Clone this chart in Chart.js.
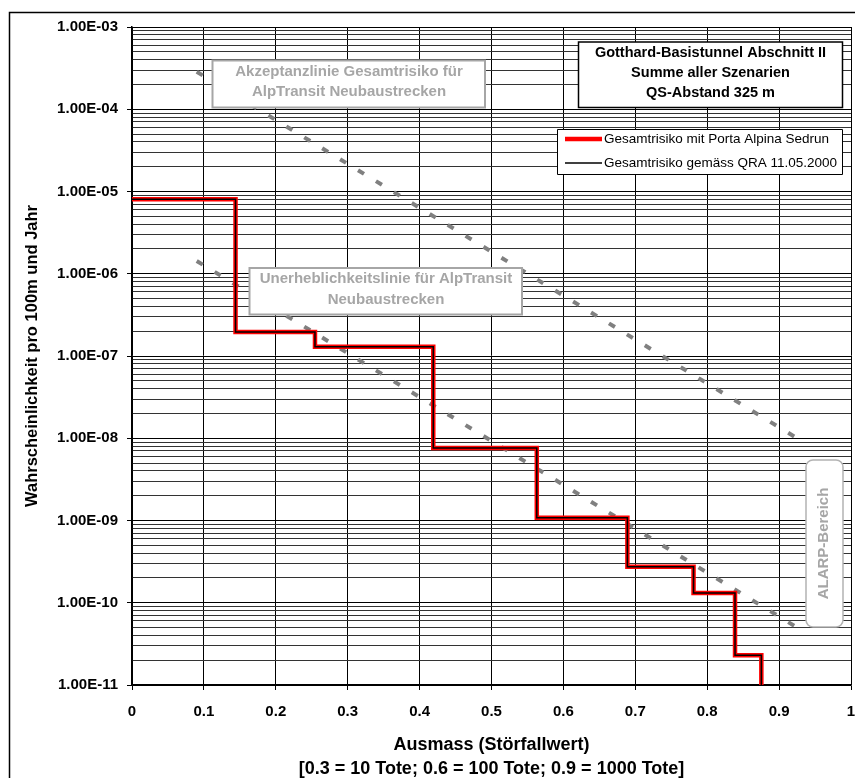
<!DOCTYPE html>
<html>
<head>
<meta charset="utf-8">
<title>Gotthard-Basistunnel Abschnitt II</title>
<script src="https://cdn.jsdelivr.net/npm/chart.js@4.4.1/dist/chart.umd.min.js"></script>
<style>
    html, body { margin: 0; padding: 0; background: #fff; overflow: hidden; }
    canvas { display: block; }
</style>
</head>
<body>
<canvas id="chart" width="870" height="800"></canvas>
<script>
/* ============================================
   Summenkurve Gesamtrisiko (log y), Stufenlinie
   ============================================ */

// Stufenkurve Gesamtrisiko (x = Ausmass, y = Wahrscheinlichkeit)
const stepX = [0, 0.144, 0.2545, 0.419, 0.563, 0.689, 0.781, 0.8387, 0.8753];
const portaY = [8.05e-6, 1.96e-7, 1.3e-7, 7.6e-9, 1.08e-9, 2.74e-10, 1.31e-10, 2.3e-11, 1e-11];
const qraY = [8.05e-6, 1.96e-7, 1.3e-7, 7.6e-9, 1.08e-9, 2.74e-10, 1.31e-10, 2.3e-11, 1e-11];

// Akzeptanz- und Unerheblichkeitslinie (Endpunkte)
const lineX = [0.09, 0.925];
const akzeptanzY = [2.86e-4, 1.0e-8];
const unerheblichY = [1.43e-6, 5.0e-11];

// Achsen
const xTickLabels = ['0', '0.1', '0.2', '0.3', '0.4', '0.5', '0.6', '0.7', '0.8', '0.9', '1'];
const yDecades = [-11, -10, -9, -8, -7, -6, -5, -4, -3];
const yTickLabels = ['1.00E-11', '1.00E-10', '1.00E-09', '1.00E-08', '1.00E-07', '1.00E-06', '1.00E-05', '1.00E-04', '1.00E-03'];
const yMinor = [1, 2, 3, 4, 5, 6, 7, 8, 9];

const FONT = '"Liberation Sans", Arial, Helvetica, sans-serif';
Chart.defaults.font.family = FONT;

// Alle Gitterlinien 1..9 x 10^n
const yTickValues = [];
yDecades.forEach((e, i) => {
    if (i === yDecades.length - 1) { yTickValues.push(Math.pow(10, e)); return; }
    yMinor.forEach(k => yTickValues.push(parseFloat((k * Math.pow(10, e)).toPrecision(3))));
});

function isDecade(v) {
    const l = Math.log10(v);
    return Math.abs(l - Math.round(l)) < 1e-6;
}

function toPts(xs, ys) {
    return xs.map((x, i) => ({ x: x, y: ys[i] }));
}

const boxPlugin = {
    id: 'boxes',
    beforeDraw(chart) {
        const ctx = chart.ctx;
        ctx.save();
        ctx.fillStyle = '#fff';
        ctx.fillRect(0, 0, chart.width, chart.height);
        ctx.strokeStyle = '#000';
        ctx.lineWidth = 1.5;
        ctx.strokeRect(9.5, 12.5, 900, 900);
        ctx.restore();
    },
    afterDatasetsDraw(chart) {
        const ctx = chart.ctx;
        ctx.save();

        const rect = (x1, y1, x2, y2, color, lw, r) => {
            ctx.beginPath();
            if (r) ctx.roundRect(x1, y1, x2 - x1, y2 - y1, r);
            else ctx.rect(x1, y1, x2 - x1, y2 - y1);
            ctx.fillStyle = '#fff';
            ctx.fill();
            ctx.lineWidth = lw;
            ctx.strokeStyle = color;
            ctx.stroke();
        };
        const lines = (texts, cx, y0, step, font, color) => {
            ctx.font = font;
            ctx.fillStyle = color;
            ctx.textAlign = 'center';
            ctx.textBaseline = 'middle';
            texts.forEach((t, i) => ctx.fillText(t, cx, y0 + i * step));
        };

        // Akzeptanzlinie
        rect(212.5, 60.5, 485, 107.5, '#a6a6a6', 2);
        lines(['Akzeptanzlinie Gesamtrisiko für', 'AlpTransit Neubaustrecken'],
            349, 72, 20, 'bold 15px ' + FONT, '#a6a6a6');

        // Unerheblichkeitslinie
        rect(249.5, 268, 522, 314.5, '#a6a6a6', 2);
        lines(['Unerheblichkeitslinie für AlpTransit', 'Neubaustrecken'],
            386, 278.5, 21, 'bold 15px ' + FONT, '#a6a6a6');

        // Titel
        rect(578.5, 42, 842.5, 107.5, '#000', 1.5);
        lines(['Gotthard-Basistunnel Abschnitt II', 'Summe aller Szenarien', 'QS-Abstand 325 m'],
            710.5, 53, 20, 'bold 14.5px ' + FONT, '#000');

        // Legende
        rect(557.5, 129.5, 842.5, 174.5, '#000', 1);
        const legendOrder = [1, 0];
        const rowY = [139, 163];
        ctx.font = '13.5px ' + FONT;
        ctx.textAlign = 'left';
        ctx.textBaseline = 'middle';
        legendOrder.forEach((di, r) => {
            const ds = chart.data.datasets[di];
            ctx.beginPath();
            ctx.moveTo(565, rowY[r]);
            ctx.lineTo(602, rowY[r]);
            ctx.lineWidth = ds.borderWidth;
            ctx.strokeStyle = ds.borderColor;
            ctx.stroke();
            ctx.fillStyle = '#000';
            ctx.fillText(ds.label, 604, rowY[r] + 0.5);
        });

        // ALARP-Bereich
        rect(806, 460, 843, 627, '#b3b3b3', 1.5, 7);
        ctx.save();
        ctx.translate(824, 543.5);
        ctx.rotate(-Math.PI / 2);
        ctx.font = 'bold 15px ' + FONT;
        ctx.fillStyle = '#a6a6a6';
        ctx.textAlign = 'center';
        ctx.textBaseline = 'middle';
        ctx.fillText('ALARP-Bereich', 0, 0);
        ctx.restore();

        ctx.restore();
    }
};

const chart = new Chart(document.getElementById('chart'), {
    type: 'line',
    data: {
        datasets: [
            {
                label: 'Gesamtrisiko gemäss QRA 11.05.2000',
                data: toPts(stepX, qraY),
                borderColor: '#000',
                borderWidth: 1.5,
                stepped: true,
                pointRadius: 0
            },
            {
                label: 'Gesamtrisiko mit Porta Alpina Sedrun',
                data: toPts(stepX, portaY),
                borderColor: '#ff0000',
                borderWidth: 4.5,
                stepped: true,
                pointRadius: 0
            },
            {
                label: 'Akzeptanzlinie',
                data: toPts(lineX, akzeptanzY),
                borderColor: '#808080',
                borderWidth: 4,
                borderDash: [7, 14],
                pointRadius: 0
            },
            {
                label: 'Unerheblichkeitslinie',
                data: toPts(lineX, unerheblichY),
                borderColor: '#808080',
                borderWidth: 4,
                borderDash: [7, 14],
                pointRadius: 0
            }
        ]
    },
    options: {
        responsive: false,
        animation: false,
        layout: { padding: { left: 9, top: 27, right: 19, bottom: 18.25 } },
        plugins: {
            legend: { display: false },
            tooltip: { enabled: false }
        },
        scales: {
            x: {
                type: 'linear',
                min: 0,
                max: 1,
                afterFit(scale) { scale.height = 96.75; },
                ticks: {
                    stepSize: 0.1,
                    autoSkip: false,
                    maxRotation: 0,
                    padding: 13,
                    color: '#000',
                    font: { size: 15, weight: 'bold' },
                    callback: (v, i) => xTickLabels[i]
                },
                grid: { color: '#000', lineWidth: 1, tickLength: 5, tickColor: '#000' },
                border: { display: true, color: '#000', width: 1.5 },
                title: {
                    display: true,
                    text: ['Ausmass (Störfallwert)', '[0.3 = 10 Tote; 0.6 = 100 Tote; 0.9 = 1000 Tote]'],
                    color: '#000',
                    font: { size: 18, weight: 'bold', lineHeight: 1.36 },
                    padding: { top: 0, bottom: 0 }
                }
            },
            y: {
                type: 'logarithmic',
                min: 1e-11,
                max: 1e-3,
                afterFit(scale) { scale.width = 123; },
                afterBuildTicks(scale) {
                    scale.ticks = yTickValues.map(v => ({ value: v, major: isDecade(v) }));
                },
                ticks: {
                    autoSkip: false,
                    padding: 9,
                    color: '#000',
                    font: { size: 15, weight: 'bold' },
                    callback: (v) => {
                        if (!isDecade(v)) return '';
                        return yTickLabels[yDecades.indexOf(Math.round(Math.log10(v)))];
                    }
                },
                grid: {
                    lineWidth: 1,
                    tickLength: 5,
                    color: c => (c.tick && isDecade(c.tick.value)) ? '#000' : '#333',
                    tickColor: c => (c.tick && isDecade(c.tick.value)) ? '#000' : 'rgba(0,0,0,0)'
                },
                border: { display: true, color: '#000', width: 1.5 },
                title: {
                    display: true,
                    text: 'Wahrscheinlichkeit pro 100m und Jahr',
                    color: '#000',
                    font: { size: 16.5, weight: 'bold' },
                    padding: { top: 14, bottom: 0 }
                }
            }
        }
    },
    plugins: [boxPlugin]
});
</script>
</body>
</html>
